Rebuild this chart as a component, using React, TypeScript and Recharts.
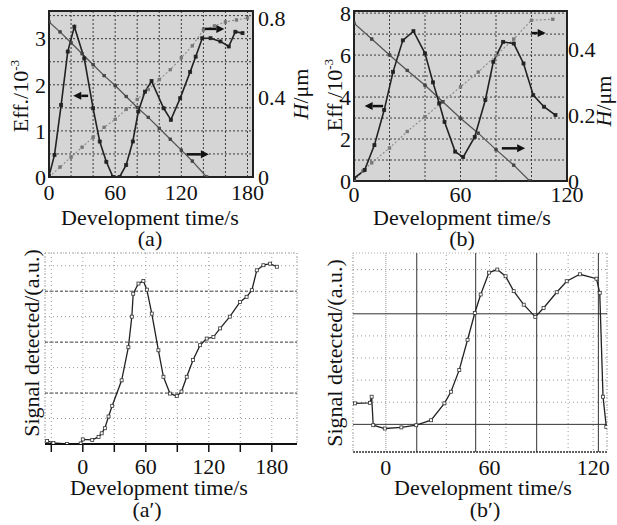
import React from 'react';
import {
  ComposedChart,
  Line,
  XAxis,
  YAxis,
  CartesianGrid,
  ReferenceLine,
  ReferenceArea,
} from 'recharts';

const FONT = '"Liberation Serif", "Times New Roman", serif';

// ---- (a) ----
const aEffTime = [0, 5, 11, 17, 23, 32, 40, 46, 52, 58, 64, 70, 76, 81, 87, 93, 104, 110.5, 119, 128, 133, 139, 146.5, 155.5, 163, 169, 175.5];
const aEff = [0.02, 0.48, 1.56, 2.72, 3.26, 2.57, 1.49, 0.77, 0.33, 0, 0, 0.26, 0.77, 1.42, 1.85, 2.08, 1.49, 1.24, 1.71, 2.28, 2.61, 3.01, 3.01, 2.94, 2.83, 3.15, 3.12];
const aHDownTime = [0, 10, 20, 30, 40, 50, 60, 70, 80, 90, 100, 110, 120, 130, 143];
const aHDown = [0.78, 0.73, 0.675, 0.62, 0.565, 0.51, 0.46, 0.405, 0.35, 0.3, 0.245, 0.19, 0.135, 0.08, 0];
const aHUpTime = [0, 10, 20, 30, 40, 50, 60, 70, 80, 90, 100, 110, 120, 130, 140, 150, 160, 170, 180];
const aHUp = [0, 0.05, 0.1, 0.15, 0.2, 0.25, 0.29, 0.34, 0.39, 0.44, 0.49, 0.54, 0.6, 0.66, 0.74, 0.76, 0.78, 0.79, 0.8];
const aXTicks = [0, 20, 40, 60, 80, 100, 120, 140, 160, 180];
const aXLabels = [0, 60, 120, 180];
const aYTicks = [0, 0.5, 1, 1.5, 2, 2.5, 3, 3.5];
const aHTicks = [0, 0.4, 0.8];

// ---- (b) ----
const bEffTime = [0, 6, 11.5, 17, 22, 27.5, 33.5, 40, 44.5, 48, 51, 57, 61.5, 68, 74, 78.5, 84, 90, 95.5, 101, 107, 113.5];
const bEff = [0.13, 0.52, 1.71, 3.38, 5.2, 6.7, 7.14, 6.08, 4.7, 3.7, 2.82, 1.4, 1.14, 2.1, 3.86, 5.68, 6.63, 6.55, 5.6, 4.09, 3.54, 3.14];
const bHDownTime = [0, 10, 20, 30, 40, 50, 60, 70, 80, 90, 99];
const bHDown = [0.478, 0.43, 0.382, 0.335, 0.29, 0.24, 0.19, 0.145, 0.095, 0.048, 0];
const bHUpTime = [0, 5, 10, 20, 30, 40, 50, 60, 70, 80, 90, 100, 112];
const bHUp = [0, 0.03, 0.055, 0.1, 0.15, 0.195, 0.24, 0.285, 0.33, 0.38, 0.43, 0.487, 0.49];
const bXTicks = [0, 20, 40, 60, 80, 100, 120];
const bXLabels = [0, 60, 120];
const bYTicks = [0, 1, 2, 3, 4, 5, 6, 7, 8];
const bHTicks = [0, 0.2, 0.4];

// ---- (a') ----
const apTime = [-34, -28, -15, -2, 0, 9, 15, 18, 21, 24.5, 28, 37, 43.4, 46.7, 48, 53, 57.7, 61, 65.7, 72, 76.8, 83, 89.5, 94, 99, 105, 111.7, 118, 124.4, 130.8, 140, 149.8, 156, 161, 165.7, 172, 178.4, 184.8];
const apSignal = [0.06, 0.02, 0, 0.01, 0.09, 0.08, 0.14, 0.21, 0.31, 0.54, 0.75, 1.25, 1.9, 2.5, 2.95, 3.15, 3.2, 3.03, 2.56, 1.84, 1.32, 0.99, 0.94, 1.03, 1.32, 1.65, 1.94, 2.07, 2.1, 2.27, 2.5, 2.79, 2.89, 3.02, 3.41, 3.51, 3.54, 3.48];
const apXTicks = [-30, 0, 30, 60, 90, 120, 150, 180];
const apXLabels = [0, 60, 120, 180];
const apYGrid = [0, 0.5, 1, 1.5, 2, 2.5, 3, 3.5];
const apYMajor = [1, 2, 3];

// ---- (b') ----
const bpTime = [-17.8, -9.2, -8.2, -7.3, -0.6, 9, 17.6, 26.2, 33.9, 37.7, 42.5, 47.3, 51.5, 54.9, 59.7, 64.5, 69.3, 74, 79.8, 86.5, 91.3, 98.9, 104.7, 112.3, 121.9, 123.8, 125.7, 127.6];
const bpSignal = [1.76, 1.78, 2.0, 0.97, 0.85, 0.89, 0.97, 1.15, 1.76, 2.18, 2.97, 4.06, 5.03, 5.7, 6.49, 6.6, 6.36, 5.82, 5.33, 4.89, 5.21, 5.78, 6.18, 6.43, 6.27, 5.76, 2.0, 0.91];
const bpXTicks = [0, 35, 69.5, 105.5];
const bpXLabels = [0, 60, 120];
const bpSolidX = [17.9, 52, 87.3, 123];
const bpYGrid = [1.8, 2.6, 3.4, 4.2, 5.8, 6.6];
const bpSolidY = [1, 5];

// arrows: [x tail, x head, y, axis]
const aArrows: [number, number, number, string][] = [
  [35.5, 22, 1.76, 'left'],
  [139, 159, 0.745, 'right'],
  [125, 145, 0.114, 'right'],
];
const bArrows: [number, number, number, string][] = [
  [16.4, 6, 3.57, 'left'],
  [100, 108, 0.448, 'right'],
  [83.3, 96.4, 0.099, 'right'],
];

const pts = (t: number[], v: number[]) => t.map((x, i) => ({ x, y: v[i] }));

const square = (size: number, fill: string, stroke: string) => (p: any) => (
  <rect
    key={`d-${p.index}`}
    x={p.cx - size / 2}
    y={p.cy - size / 2}
    width={size}
    height={size}
    fill={fill}
    stroke={stroke}
    strokeWidth={0.8}
  />
);

const arrowShape = (p: any) => {
  const { x1, y1, x2, y2 } = p;
  const dir = x2 > x1 ? 1 : -1;
  const hx = x2 - dir * 8;
  return (
    <g>
      <line x1={x1} y1={y1} x2={hx} y2={y2} stroke="#111" strokeWidth={2.5} />
      <polygon points={`${x2},${y2} ${hx},${y2 - 4} ${hx},${y2 + 4}`} fill="#111" />
    </g>
  );
};

const tickStyle = { fontFamily: FONT, fontSize: 22, fill: '#111' };
const only = (labels: number[]) => (v: number) => (labels.includes(v) ? String(v) : '');

function Txt({ x, y, rot, children }: { x: number; y: number; rot?: boolean; children: React.ReactNode }) {
  return (
    <div
      style={{
        position: 'absolute',
        left: x,
        top: y,
        transform: `translate(-50%, -50%)${rot ? ' rotate(-90deg)' : ''}`,
        fontFamily: FONT,
        fontSize: 22,
        lineHeight: 1,
        whiteSpace: 'nowrap',
        color: '#111',
      }}
    >
      {children}
    </div>
  );
}

const Eff = () => (
  <span>
    Eff./10<sup style={{ fontSize: '0.6em', verticalAlign: '0.7em' }}>-3</sup>
  </span>
);
const Hum = () => (
  <span>
    <i>H</i>/μm
  </span>
);

function PanelA() {
  return (
    <ComposedChart width={310} height={250} margin={{ top: 11, right: 0, bottom: 0, left: 0 }}>
      <CartesianGrid yAxisId="left" fill="#d5d5d5" stroke="#3a3a3a" strokeDasharray="2 2" />
      <XAxis type="number" dataKey="x" domain={[0, 185]} allowDataOverflow ticks={aXTicks}
        tickFormatter={only(aXLabels)} tick={tickStyle} tickLine={false} axisLine={false}
        tickSize={0} tickMargin={7} height={73} interval={0} />
      <YAxis yAxisId="left" type="number" domain={[0, 3.6]} allowDataOverflow ticks={aYTicks}
        tickFormatter={(v: number) => (Number.isInteger(v) ? String(v) : '')} tick={tickStyle}
        tickLine={false} axisLine={false} tickSize={0} tickMargin={3} width={49} interval={0} />
      <YAxis yAxisId="right" orientation="right" type="number" domain={[0, 0.835]} allowDataOverflow
        ticks={aHTicks} tick={tickStyle} tickLine={false} axisLine={false} tickSize={0} tickMargin={5}
        width={57} interval={0} />
      <Line yAxisId="right" data={pts(aHUpTime, aHUp)} dataKey="y" stroke="#8a8a8a" strokeWidth={1.1}
        strokeDasharray="2 2" dot={square(2.5, '#777', '#777')} isAnimationActive={false} />
      <Line yAxisId="right" data={pts(aHDownTime, aHDown)} dataKey="y" stroke="#555" strokeWidth={1.3}
        dot={square(2.5, '#444', '#444')} isAnimationActive={false} />
      <Line yAxisId="left" data={pts(aEffTime, aEff)} dataKey="y" stroke="#222" strokeWidth={1.6}
        dot={square(3, '#222', '#222')} isAnimationActive={false} />
      {aArrows.map(([x1, x2, y, axis], i) => (
        <ReferenceLine key={i} yAxisId={axis} segment={[{ x: x1, y }, { x: x2, y }]} shape={arrowShape} />
      ))}
      <ReferenceArea yAxisId="left" x1={0} x2={185} y1={0} y2={3.6} fill="none" stroke="#222" strokeWidth={2} />
    </ComposedChart>
  );
}

function PanelB() {
  return (
    <ComposedChart width={312} height={250} margin={{ top: 11, right: 0, bottom: 0, left: 0 }}>
      <CartesianGrid yAxisId="left" fill="#d5d5d5" stroke="#3a3a3a" strokeDasharray="2 2" />
      <XAxis type="number" dataKey="x" domain={[0, 120]} allowDataOverflow ticks={bXTicks}
        tickFormatter={only(bXLabels)} tick={tickStyle} tickLine={false} axisLine={false}
        tickSize={0} tickMargin={5} height={69} interval={0} />
      <YAxis yAxisId="left" type="number" domain={[0, 8.1]} allowDataOverflow ticks={bYTicks}
        tickFormatter={(v: number) => (v % 2 === 0 ? String(v) : '')} tick={tickStyle}
        tickLine={false} axisLine={false} tickSize={0} tickMargin={3} width={49} interval={0} />
      <YAxis yAxisId="right" orientation="right" type="number" domain={[0, 0.515]} allowDataOverflow
        ticks={bHTicks} tick={tickStyle} tickLine={false} axisLine={false} tickSize={0} tickMargin={1}
        width={50} interval={0} />
      <Line yAxisId="right" data={pts(bHUpTime, bHUp)} dataKey="y" stroke="#8a8a8a" strokeWidth={1.1}
        strokeDasharray="2 2" dot={square(2.5, '#777', '#777')} isAnimationActive={false} />
      <Line yAxisId="right" data={pts(bHDownTime, bHDown)} dataKey="y" stroke="#555" strokeWidth={1.3}
        dot={square(2.5, '#444', '#444')} isAnimationActive={false} />
      <Line yAxisId="left" data={pts(bEffTime, bEff)} dataKey="y" stroke="#222" strokeWidth={1.6}
        dot={square(3, '#222', '#222')} isAnimationActive={false} />
      {bArrows.map(([x1, x2, y, axis], i) => (
        <ReferenceLine key={i} yAxisId={axis} segment={[{ x: x1, y }, { x: x2, y }]} shape={arrowShape} />
      ))}
      <ReferenceArea yAxisId="left" x1={0} x2={120} y1={0} y2={8.1} fill="none" stroke="#222" strokeWidth={2} />
    </ComposedChart>
  );
}

function PanelAP() {
  return (
    <ComposedChart width={310} height={285} margin={{ top: 13, right: 13, bottom: 0, left: 0 }}>
      <CartesianGrid yAxisId="y" stroke="#9a9a9a" strokeDasharray="1 3" />
      <XAxis type="number" dataKey="x" domain={[-36, 204]} allowDataOverflow ticks={apXTicks}
        tickFormatter={only(apXLabels)} tick={tickStyle} tickLine={{ stroke: '#111', strokeWidth: 1.5 }}
        axisLine={{ stroke: '#111', strokeWidth: 2 }} tickSize={8} tickMargin={6} height={81} interval={0} />
      <YAxis yAxisId="y" type="number" domain={[0, 3.75]} allowDataOverflow ticks={apYGrid}
        tickFormatter={() => ''} tickLine={false} axisLine={false} width={45} interval={0} />
      {apYMajor.map((v) => (
        <ReferenceLine key={v} yAxisId="y" y={v} stroke="#444" strokeDasharray="3 2" />
      ))}
      <ReferenceArea yAxisId="y" x1={-36} x2={204} y1={0} y2={3.75} fill="none" stroke="#aaa" strokeDasharray="1 2" />
      <Line yAxisId="y" data={pts(apTime, apSignal)} dataKey="y" stroke="#222" strokeWidth={1.3}
        dot={square(3, '#fff', '#333')} isAnimationActive={false} />
    </ComposedChart>
  );
}

function PanelBP() {
  return (
    <ComposedChart width={312} height={285} margin={{ top: 13, right: 10, bottom: 0, left: 0 }}>
      <CartesianGrid yAxisId="y" horizontalValues={bpYGrid} stroke="#9a9a9a" strokeDasharray="1 3" />
      <XAxis type="number" dataKey="x" domain={[-19, 128]} allowDataOverflow ticks={bpXLabels}
        tick={tickStyle} tickLine={false} axisLine={{ stroke: '#333', strokeDasharray: '2 1', strokeWidth: 1.5 }}
        tickSize={0} tickMargin={7} height={73} interval={0} />
      <YAxis yAxisId="y" type="number" domain={[0, 7.2]} allowDataOverflow ticks={bpYGrid}
        tickFormatter={() => ''} tickLine={false} axisLine={false} width={48} interval={0} />
      {bpXTicks.map((v) => (
        <ReferenceLine key={`g${v}`} yAxisId="y" x={v} stroke="#9a9a9a" strokeDasharray="1 3" />
      ))}
      {bpSolidX.map((v) => (
        <ReferenceLine key={`sx${v}`} yAxisId="y" x={v} stroke="#333" strokeWidth={1} />
      ))}
      {bpSolidY.map((v) => (
        <ReferenceLine key={`sy${v}`} yAxisId="y" y={v} stroke="#333" strokeWidth={1} />
      ))}
      <ReferenceArea yAxisId="y" x1={-19} x2={128} y1={0} y2={7.2} fill="none" stroke="#aaa" strokeDasharray="1 2" />
      <Line yAxisId="y" data={pts(bpTime, bpSignal)} dataKey="y" stroke="#222" strokeWidth={1.3}
        dot={square(3, '#fff', '#333')} isAnimationActive={false} />
    </ComposedChart>
  );
}

export default function App() {
  return (
    <div style={{ position: 'absolute', left: 0, top: 0, width: 617, height: 525, background: '#fff', overflow: 'hidden' }}>
      <div style={{ position: 'absolute', left: 0, top: 0 }}><PanelA /></div>
      <div style={{ position: 'absolute', left: 305, top: 0 }}><PanelB /></div>
      <div style={{ position: 'absolute', left: 0, top: 240 }}><PanelAP /></div>
      <div style={{ position: 'absolute', left: 305, top: 240 }}><PanelBP /></div>

      <Txt x={20} y={96} rot><Eff /></Txt>
      <Txt x={301} y={94} rot><Hum /></Txt>
      <Txt x={150} y={218}>Development time/s</Txt>
      <Txt x={150} y={239}>(a)</Txt>

      <Txt x={334} y={95} rot><Eff /></Txt>
      <Txt x={604} y={101} rot><Hum /></Txt>
      <Txt x={462} y={218}>Development time/s</Txt>
      <Txt x={462} y={239}>(b)</Txt>

      <Txt x={32} y={343} rot>Signal detected/(a.u.)</Txt>
      <Txt x={159} y={488}>Development time/s</Txt>
      <Txt x={147} y={510}>(a′)</Txt>

      <Txt x={335} y={353} rot>Signal detected/(a.u.)</Txt>
      <Txt x={483} y={488}>Development time/s</Txt>
      <Txt x={485} y={510}>(b′)</Txt>
    </div>
  );
}
